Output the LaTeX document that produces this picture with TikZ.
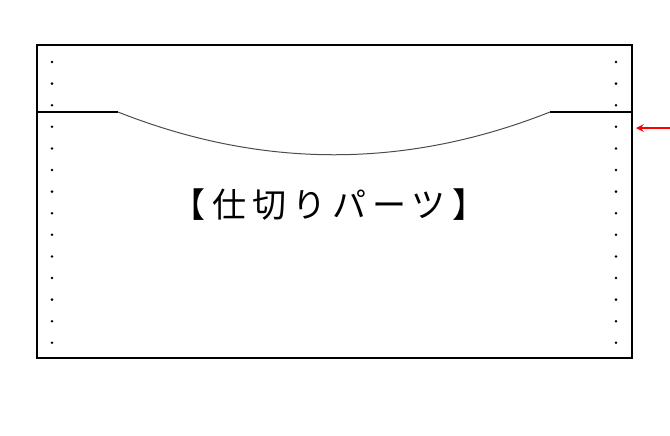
\documentclass[tikz,border=0pt]{standalone}
\usepackage{fontspec}
\newfontfamily\jpfont[LetterSpace=18]{Noto Sans CJK JP}
\begin{document}
\begin{tikzpicture}[x=.5pt, y=-.5pt, >=stealth]
    \useasboundingbox (0,0) rectangle (670,435);
    % upper part
    \draw [line width=.7pt] (37,111) -- (37,45) -- (632,45) -- (632,111);
    % lower part with the cut-out
    \draw [line width=.7pt] (118,112) -- (37,112) -- (37,358) -- (632,358) -- (632,112) -- (550,112);
    \draw [black!70, line width=.5pt] (118,112) .. controls (262,169) and (406,169) .. (550,112);
    \foreach \x in {52,616} \foreach \i in {0,...,13}
    \fill (\x, 62+21.6*\i) circle (1.4);
    \node [font=\jpfont\fontsize{17}{20}\selectfont] (title) at (329,205) {【仕切りパーツ】};
    \coordinate (tail) at (670,128);
    \coordinate (edge) at (636,128);
    \draw [->, red, line width=.7pt] (tail) -- (edge);
\end{tikzpicture}
\end{document}
